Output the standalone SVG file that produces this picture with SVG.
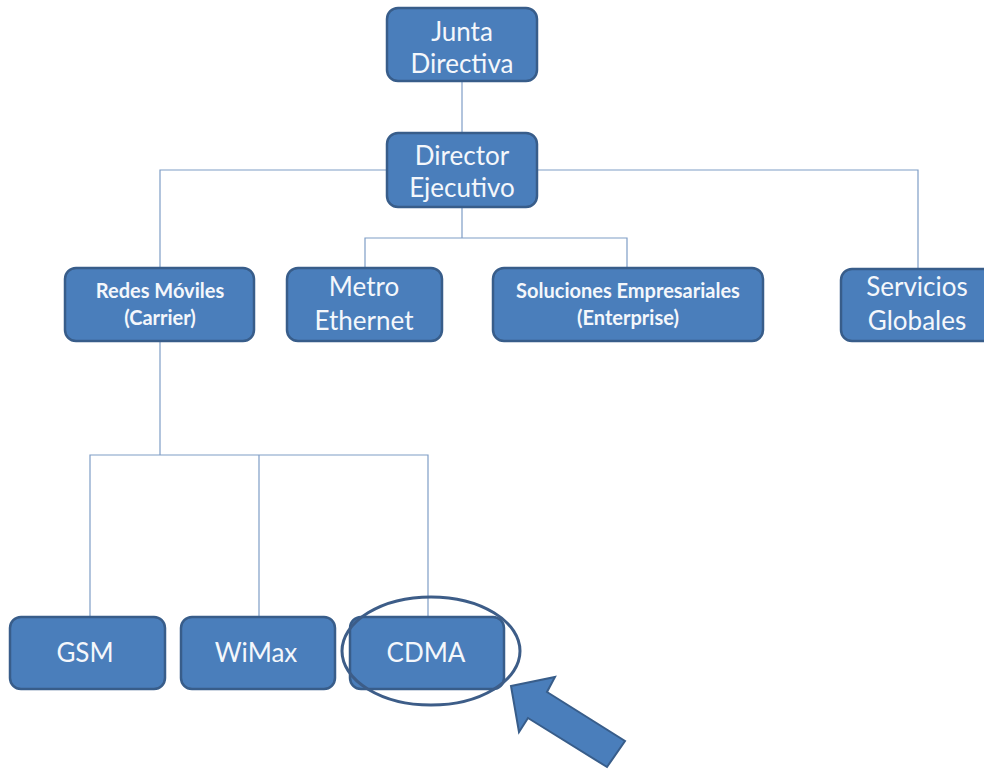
<svg xmlns="http://www.w3.org/2000/svg" width="984" height="769" viewBox="0 0 984 769">
<style>
.box{fill:#4a7ebb;stroke:#385d8a;stroke-width:2.5}
.t{fill:#f4f7fb;font-family:Lato,"Liberation Sans",sans-serif;text-anchor:middle}
.b{font-size:26px}
.s{font-size:20px;font-weight:bold}
.c{fill:none;stroke:#7f9dc6;stroke-width:1.2}
</style>
<rect width="984" height="769" fill="#ffffff"/>
<g id="connectors">
<path class="c" d="M462 81V133"/>
<path class="c" d="M387 170H160V268"/>
<path class="c" d="M537 170H918V270"/>
<path class="c" d="M462 207V238M365 268V238H627V268"/>
<path class="c" d="M160 341V455M90 617V455H428V617M259 455V617"/>
</g>
<g id="junta"><rect class="box" x="387" y="8" width="150" height="73" rx="11"/><text class="t b" x="462" y="41">Junta</text><text class="t b" x="462" y="73">Directiva</text></g>
<g id="director"><rect class="box" x="387" y="133" width="150" height="74" rx="11"/><text class="t b" x="462" y="165">Director</text><text class="t b" x="462" y="197">Ejecutivo</text></g>
<g id="redes"><rect class="box" x="65" y="268" width="189" height="73" rx="11"/><text class="t s" x="160" y="298">Redes Móviles</text><text class="t s" x="160" y="325">(Carrier)</text></g>
<g id="metro"><rect class="box" x="287" y="268" width="155" height="73" rx="11"/><text class="t b" x="364" y="296">Metro</text><text class="t b" x="364" y="330">Ethernet</text></g>
<g id="soluciones"><rect class="box" x="493" y="268" width="270" height="73" rx="11"/><text class="t s" x="628" y="298">Soluciones Empresariales</text><text class="t s" x="628" y="325">(Enterprise)</text></g>
<g id="servicios"><rect class="box" x="841" y="269" width="160" height="72" rx="11"/><text class="t b" x="917" y="296">Servicios</text><text class="t b" x="917" y="330">Globales</text></g>
<g id="gsm"><rect class="box" x="10" y="617" width="155" height="72" rx="11"/><text class="t b" x="85" y="662">GSM</text></g>
<g id="wimax"><rect class="box" x="181" y="617" width="154" height="72" rx="11"/><text class="t b" x="256" y="662">WiMax</text></g>
<g id="cdma"><rect class="box" x="350" y="617" width="154" height="72" rx="11"/><text class="t b" x="426" y="662">CDMA</text></g>
<ellipse cx="431" cy="651" rx="89" ry="54" fill="none" stroke="#3d5d88" stroke-width="3"/>
<polygon points="511,686 555,677 547,692 625,741 607,767 528,718 519,732" fill="#4a7ebb" stroke="#385d8a" stroke-width="2"/>
</svg>
